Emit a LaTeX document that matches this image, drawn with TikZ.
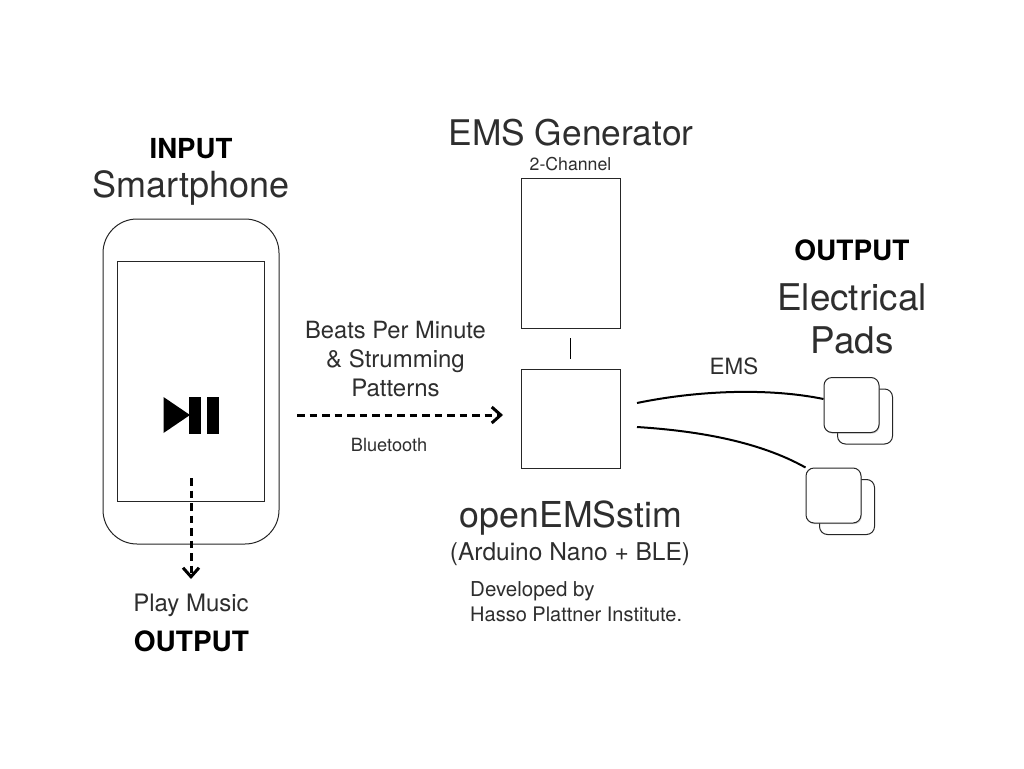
\documentclass[tikz,border=0pt]{standalone}
\usepackage{fontspec}
\setmainfont{TeX Gyre Heros}
\usetikzlibrary{arrows.meta,shadows}
\newcommand{\fsz}[1]{\fontsize{#1}{#1}\selectfont}
\tikzset{
  x=1pt,y=-1pt,
  lbl/.style={inner sep=0pt,anchor=base,text=black!82,align=center,font=\fsz{#1}},
  bld/.style={inner sep=0pt,anchor=base,text=black,font=\fsz{#1}\bfseries},
  boxx/.style={draw=black!85,line width=1pt,fill=white,inner sep=0pt,outer sep=0pt,minimum width=#1},
  pad/.style={draw=black!85,line width=1pt,fill=white,rounded corners=8pt,inner sep=0pt,minimum width=55pt,minimum height=55pt},
  padf/.style={pad,drop shadow={shadow xshift=0.8pt,shadow yshift=-1.2pt,opacity=.35}},
  dasharrow/.style={draw=black,line width=3pt,dash pattern=on 7.5pt off 5pt,-{Straight Barb[length=9pt,width=16pt,line width=3pt]}},
  wire/.style={draw=black,line width=2pt},
}
\begin{document}
\begin{tikzpicture}
\useasboundingbox (0,0) rectangle (1024,768);
\fill[white] (0,0) rectangle (1024,768);
% phone
\node[boxx=176pt,minimum height=325pt,rounded corners=34pt] (phone) at (191,381.5) {};
\node[boxx=147pt,minimum height=240pt] (screen) at (191.3,381) {};
% play icon
\fill[black] (163.5,397) -- (190,415) -- (163.5,433) -- cycle;
\fill[black] (189,396.5) rectangle (201,433.5);
\fill[black] (207,396.5) rectangle (219,433.5);
% generator and board
\node[boxx=99pt,minimum height=150pt] (gen) at (570.5,253) {};
\node[boxx=99pt,minimum height=99pt] (stim) at (570.5,418.5) {};
\draw[black,line width=1.8pt,shorten <=10pt,shorten >=10pt] (gen) -- (stim);
% pads
\node[pad] (p1b) at (865,416.5) {};
\node[padf] (p1) at (851.5,405) {};
\node[pad] (p2b) at (847,507) {};
\node[padf] (p2) at (833.5,495.5) {};
% wires
\coordinate (w1) at (637,403);
\coordinate (w2) at (637,427);
\draw[wire] (w1) .. controls (700,390) and (770,388) .. (p1.west |- 0,399);
\draw[wire] (w2) .. controls (700,431) and (760,442) .. (p2.north west);
% arrows
\coordinate (a1) at (297,415);
\coordinate (a2) at (503,415);
\draw[dasharrow] (a1) -- (a2);
\coordinate (b1) at (191,478);
\coordinate (b2) at (191,579);
\draw[dasharrow] (b1) -- (b2);
% text
\node[bld=27.6] (t1) at (191,158) {INPUT};
\node[lbl=36] (t2) at (191,197) {Smartphone};
\node[lbl=24] (t3) at (191,611) {Play Music};
\node[bld=28] (t4) at (191.5,651) {OUTPUT};
\node[lbl=23.7] (t5) at (395.5,338) {Beats Per Minute};
\node[lbl=24] (t6) at (395.5,367) {\&\ Strumming};
\node[lbl=24] (t7) at (395.5,396) {Patterns};
\node[lbl=18.2] (t8) at (389,451) {Bluetooth};
\node[lbl=35.3] (t9) at (571,145) {EMS Generator};
\node[lbl=17.7] (t10) at (570.5,170) {2-Channel};
\node[lbl=35.7] (t11) at (571,527) {openEMSstim};
\node[lbl=24.5] (t12) at (570,560) {(Arduino Nano + BLE)};
\node[lbl=20.5,anchor=base west] (t13) at (470,596) {Developed by};
\node[lbl=20,anchor=base west] (t14) at (470,621) {Hasso Plattner Institute.};
\node[bld=28] (t15) at (852,260) {OUTPUT};
\node[lbl=36.8] (t16) at (852,310) {Electrical};
\node[lbl=36.8] (t17) at (852,353) {Pads};
\node[lbl=22.4] (t18) at (734,374) {EMS};
\end{tikzpicture}
\end{document}
